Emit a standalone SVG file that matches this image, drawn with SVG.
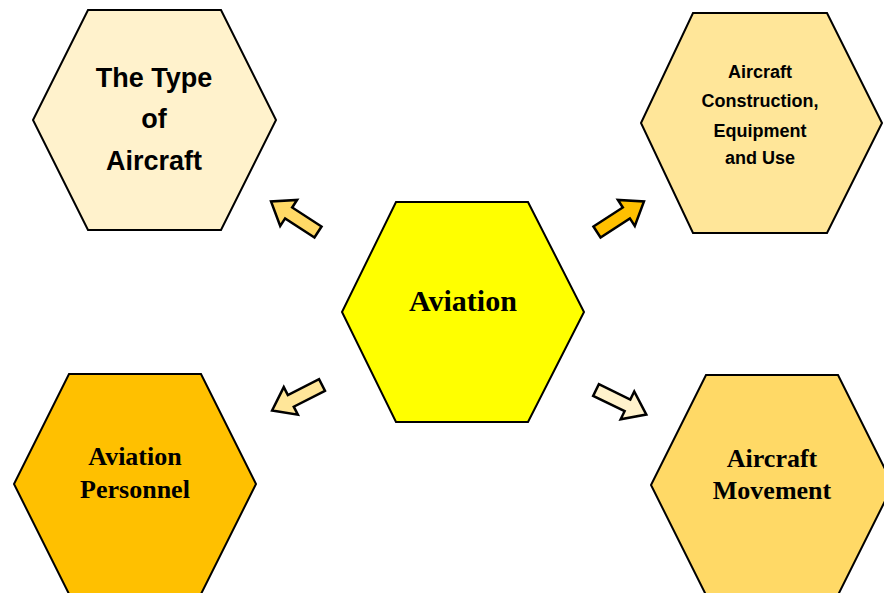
<svg xmlns="http://www.w3.org/2000/svg" width="884" height="593" viewBox="0 0 884 593">
<defs>
<style>
.hex{stroke:#000;stroke-width:2;stroke-linejoin:miter}
.arr{stroke:#000;stroke-width:2.5;stroke-linejoin:miter}
.sans{font-family:"Liberation Sans",Arial,sans-serif;font-weight:bold;fill:#000;text-anchor:middle}
.serif{font-family:"Liberation Serif","Times New Roman",serif;font-weight:bold;fill:#000;text-anchor:middle}
</style>
<polygon id="arrowShape" points="0,-6.5 35,-6.5 35,-15.5 56,0 35,15.5 35,6.5 0,6.5"/>
</defs>
<rect width="884" height="593" fill="#fff"/>
<g id="connectors">
<use href="#arrowShape" class="arr" fill="#FFD966" transform="translate(318,232) rotate(213)"/>
<use href="#arrowShape" class="arr" fill="#FFC000" transform="translate(597,232) rotate(-33)"/>
<use href="#arrowShape" class="arr" fill="#FFE699" transform="translate(322,385) rotate(153)"/>
<use href="#arrowShape" class="arr" fill="#FFF2CC" transform="translate(596,390) rotate(26)"/>
</g>
<g id="type-of-aircraft">
<polygon class="hex" fill="#FFF2CC" points="88,10 221,10 276,120 221,230 88,230 33,120"/>
<text class="sans" font-size="27" x="154" y="87">The Type</text>
<text class="sans" font-size="27" x="154" y="128">of</text>
<text class="sans" font-size="27" x="154" y="170">Aircraft</text>
</g>
<g id="aircraft-construction">
<polygon class="hex" fill="#FFE699" points="693,13 827,13 882,123 827,233 693,233 641,123"/>
<text class="sans" font-size="18" x="760" y="78">Aircraft</text>
<text class="sans" font-size="18" x="760" y="107">Construction,</text>
<text class="sans" font-size="18" x="760" y="137">Equipment</text>
<text class="sans" font-size="18" x="760" y="164">and Use</text>
</g>
<g id="aviation">
<polygon class="hex" fill="#FFFF00" points="396,202 528,202 584,312 528,422 396,422 342,312"/>
<text class="serif" font-size="30" x="463" y="311">Aviation</text>
</g>
<g id="aviation-personnel">
<polygon class="hex" fill="#FFC000" points="69,374 201,374 256,484 201,594 69,594 14,484"/>
<text class="serif" font-size="26" x="135" y="465">Aviation</text>
<text class="serif" font-size="26" x="135" y="498">Personnel</text>
</g>
<g id="aircraft-movement">
<polygon class="hex" fill="#FFD966" points="706,375 838,375 893,485 838,595 706,595 651,485"/>
<text class="serif" font-size="26" x="772" y="467">Aircraft</text>
<text class="serif" font-size="26" x="772" y="499">Movement</text>
</g>
</svg>
